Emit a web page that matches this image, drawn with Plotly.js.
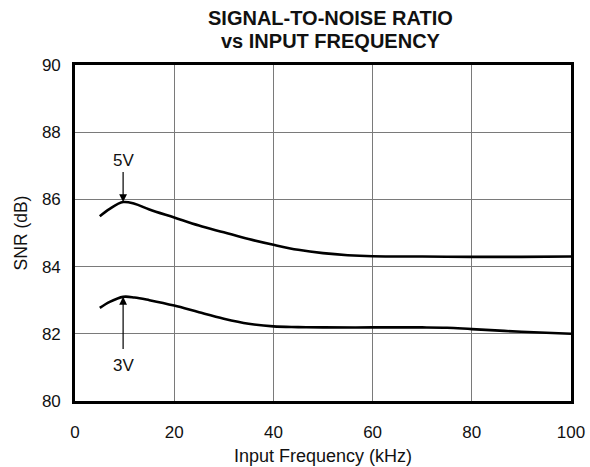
<!DOCTYPE html>
<html><head><meta charset="utf-8">
<script src="https://cdn.plot.ly/plotly-3.0.1.min.js"></script>
<style>html,body{margin:0;padding:0;background:#fff}#chart{width:590px;height:467px}</style>
</head><body><div id="chart"></div>
<script>
const freq5 = [5,7,9.7,12,15,20,25,30,35,40,45,50,55,60,70,80,90,100];
const snr5  = [85.5,85.72,85.92,85.87,85.7,85.46,85.22,85.02,84.82,84.65,84.5,84.4,84.34,84.31,84.3,84.29,84.29,84.3];
const freq3 = [5,7,9.7,12,15,20,25,30,35,40,45,50,60,70,75,80,90,100];
const snr3  = [82.77,82.95,83.1,83.08,83.0,82.84,82.64,82.45,82.3,82.22,82.2,82.19,82.19,82.19,82.18,82.14,82.06,82.0];
const xTicks = [0,20,40,60,80,100];
const yTicks = [80,82,84,86,88,90];
const labels = ['5V','3V'];
const titleLines = ['SIGNAL-TO-NOISE RATIO','vs INPUT FREQUENCY'];

const fontFam = 'Liberation Sans, Arial, Helvetica, sans-serif';
const line = {color:'#000', width:2.6, shape:'spline', smoothing:1};
const data = [
  {x:freq5, y:snr5, mode:'lines', line:line, hoverinfo:'skip', name:labels[0]},
  {x:freq3, y:snr3, mode:'lines', line:line, hoverinfo:'skip', name:labels[1]}
];
const ax = {
  showline:true, mirror:true, linecolor:'#000', linewidth:2.8,
  showgrid:true, gridcolor:'#7a7a7a', gridwidth:1, zeroline:false,
  ticks:'', tickfont:{family:fontFam, size:17, color:'#111'}
};
const layout = {
  width:590, height:467,
  margin:{l:75, r:19, t:65, b:66},
  paper_bgcolor:'#fff', plot_bgcolor:'#fff',
  showlegend:false,
  xaxis:Object.assign({}, ax, {range:[0,100], tickvals:xTicks, ticktext:xTicks.map(String), ticklabelstandoff:14,
         title:{text:'Input Frequency (kHz)', font:{family:fontFam, size:18, color:'#111'}, standoff:9}}),
  yaxis:Object.assign({}, ax, {range:[80,90], tickvals:yTicks, ticktext:yTicks.map(String), ticklabelstandoff:8,
         title:{text:'SNR (dB)', font:{family:fontFam, size:17.5, color:'#111'}, standoff:10}}),
  annotations:[
    {x:0.516, y:1.1399, xref:'paper', yref:'paper', xanchor:'center', yanchor:'middle', text:'<b>'+titleLines[0]+'</b>', showarrow:false,
     font:{family:fontFam, size:20, color:'#111'}},
    {x:0.516, y:1.0714, xref:'paper', yref:'paper', xanchor:'center', yanchor:'middle', text:'<b>'+titleLines[1]+'</b>', showarrow:false,
     font:{family:fontFam, size:20, color:'#111'}},
    {x:freq5[2], y:87.17, xref:'x', yref:'y', text:labels[0], showarrow:false, font:{family:fontFam, size:17, color:'#111'}},
    {x:freq5[2], y:snr5[2], xref:'x', yref:'y', ax:freq5[2], ay:86.86, axref:'x', ayref:'y', text:'', showarrow:true,
     arrowhead:2, arrowsize:1.3, arrowwidth:1.2, arrowcolor:'#000'},
    {x:freq3[2], y:81.05, xref:'x', yref:'y', text:labels[1], showarrow:false, font:{family:fontFam, size:17, color:'#111'}},
    {x:freq3[2], y:snr3[2], xref:'x', yref:'y', ax:freq3[2], ay:81.5, axref:'x', ayref:'y', text:'', showarrow:true,
     arrowhead:2, arrowsize:1.3, arrowwidth:1.2, arrowcolor:'#000'}
  ]
};
Plotly.newPlot('chart', data, layout, {displayModeBar:false, staticPlot:true});
</script></body></html>
